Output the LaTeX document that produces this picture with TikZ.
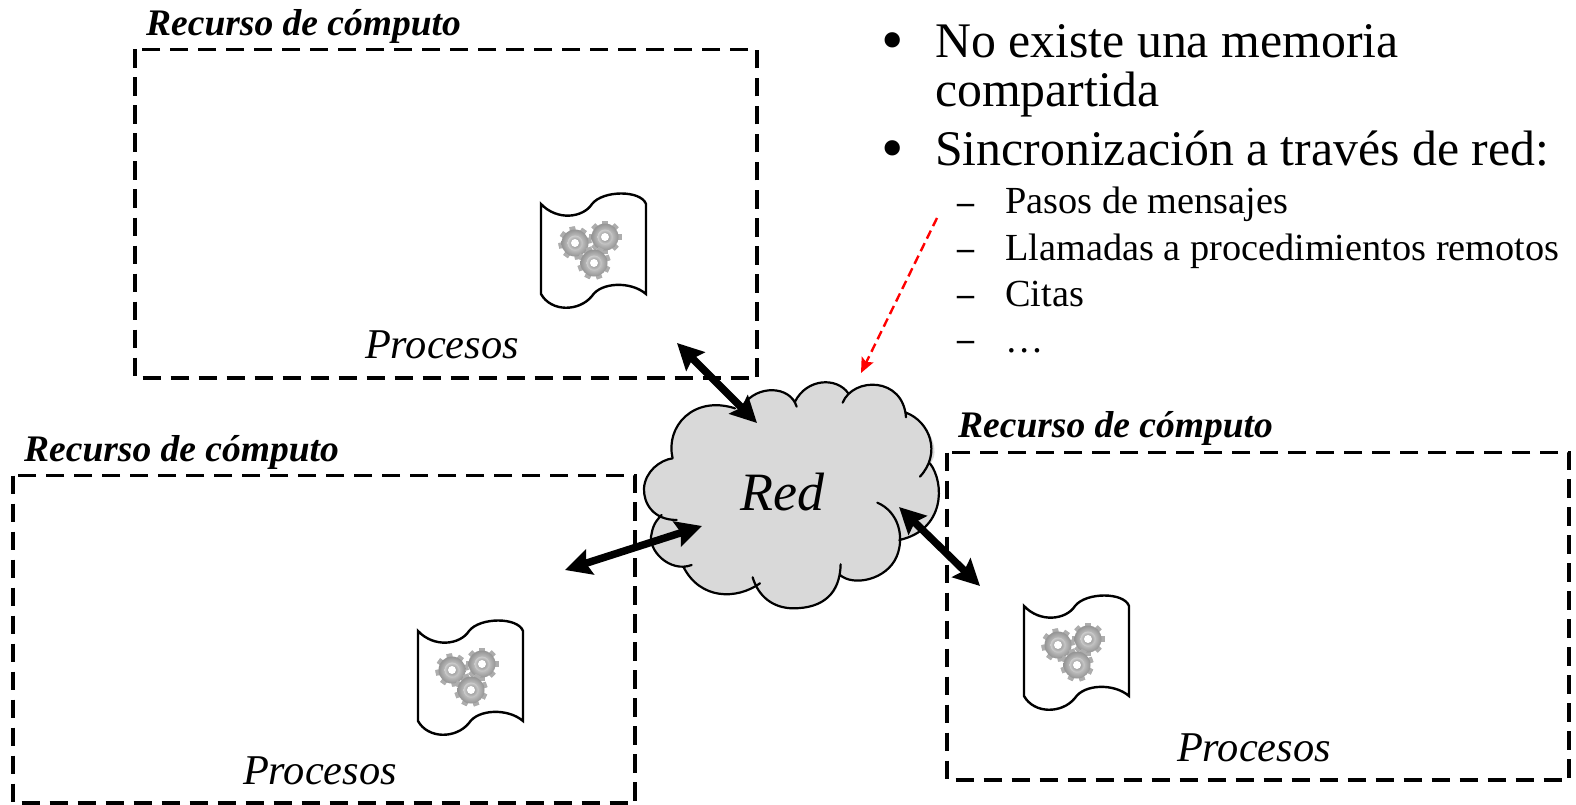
\documentclass[tikz,border=0pt]{standalone}
\usepackage{fontspec}
\setmainfont{Liberation Serif}
\usetikzlibrary{arrows.meta,positioning}
\definecolor{nubegris}{RGB}{217,217,217}
\tikzset{
recurso/.style={draw=black,line width=3.8pt,dash pattern=on 18.5pt off 9.5pt},
titulo/.style={anchor=base west,inner sep=0pt,font=\fontsize{37.5}{37.5}\selectfont\bfseries\itshape},
procesos/.style={anchor=base,inner sep=0pt,font=\fontsize{42.4}{42.4}\selectfont\itshape},
grande/.style={anchor=base west,inner sep=0pt,font=\fontsize{49.8}{49.8}\selectfont},
chico/.style={anchor=base west,inner sep=0pt,font=\fontsize{38.3}{38.3}\selectfont},
vineta/.style={anchor=base west,inner sep=0pt,font=\fontsize{64}{64}\selectfont},
guion/.style={anchor=base west,inner sep=0pt,font=\fontsize{34}{34}\selectfont\bfseries},
flecha/.style={line width=7.5pt,{Stealth[length=26pt,width=26pt,inset=4pt]}-{Stealth[length=26pt,width=26pt,inset=4pt]}},
lobulo/.style={draw=black,line width=2.2pt,line cap=round},
pics/engrane/.style={code={
\foreach \a in {0,45,...,315}
\fill[black!32,rotate=\a+#1] (-2.8,-16.5) rectangle (2.8,16.5);
\shade[inner color=black!8,outer color=black!42] (0,0) circle (13.5);
\shade[inner color=black!50,outer color=black!20] (0,0) circle (7.5);
\fill[white] (0,0) circle (4);
}},
pics/proceso/.style={code={
\draw[line width=2.4pt,fill=white] (0,0) .. controls (16,17) and (42,14) .. (51,0)
 .. controls (62,-14) and (100,-14) .. (105,0) -- (105,90)
 .. controls (90,77) and (60,78) .. (51,92) .. controls (38,108) and (10,108) .. (0,90) -- cycle;
\path (34,39) pic {engrane=10};
\path (64,33) pic {engrane=0};
\path (53,59) pic {engrane=20};
}}
}
\begin{document}
\begin{tikzpicture}[x=1pt,y=-1pt]
\useasboundingbox (0,0) rectangle (1576,805);

% recursos
\draw[recurso] (135,49.5) rectangle (757,378);
\draw[recurso] (13,475.5) rectangle (635,803);
\draw[recurso] (947,452.5) rectangle (1569,780);
\node[titulo] (tituloA) at (146,36) {Recurso de cómputo};
\node[titulo] (tituloB) at (24,461) {Recurso de cómputo};
\node[titulo] (tituloC) at (958,437) {Recurso de cómputo};

\path (541,204) pic {proceso};
\path (418,631) pic {proceso};
\path (1024,606) pic {proceso};
\node[procesos] (procesosA) at (442,358) {Procesos};
\node[procesos] (procesosB) at (320,784) {Procesos};
\node[procesos] (procesosC) at (1254,761) {Procesos};

% nube
\begin{scope}[shift={(620,330)},x=0.3333pt,y=-0.3333pt]
\fill[nubegris] (158,385) .. controls (135,290) and (220,195) .. (345,235)
 -- (370,225) .. controls (410,165) and (510,165) .. (530,230)
 -- (525,215) .. controls (560,145) and (650,140) .. (685,190)
 -- (668,218) .. controls (700,140) and (850,140) .. (858,262)
 -- (858,248) .. controls (930,275) and (965,370) .. (930,400)
 .. controls (975,460) and (975,600) .. (838,630)
 -- (830,680) .. controls (800,750) and (700,770) .. (660,735)
 .. controls (660,790) and (610,835) .. (520,835)
 .. controls (460,835) and (415,800) .. (398,742)
 -- (420,760) .. controls (350,810) and (240,810) .. (190,710)
 -- (215,705) .. controls (150,730) and (80,660) .. (95,610)
 .. controls (100,580) and (115,565) .. (125,555)
 -- (170,570) .. controls (100,570) and (70,520) .. (72,475)
 .. controls (75,425) and (120,390) .. (158,385) -- cycle;
\draw[lobulo] (158,385) .. controls (135,290) and (220,195) .. (345,235)
 (370,225) .. controls (410,165) and (510,165) .. (530,230)
 (525,215) .. controls (560,145) and (650,140) .. (685,190)
 (668,218) .. controls (700,140) and (850,140) .. (858,262)
 (858,248) .. controls (930,275) and (965,370) .. (900,440)
 (930,400) .. controls (975,460) and (975,600) .. (838,630)
 (772,518) .. controls (835,545) and (855,620) .. (830,680) .. controls (800,750) and (700,770) .. (660,735)
 (662,703) .. controls (660,790) and (610,835) .. (520,835) .. controls (460,835) and (415,800) .. (398,742)
 (420,760) .. controls (350,810) and (240,810) .. (190,710)
 (215,705) .. controls (150,730) and (80,660) .. (95,610) .. controls (100,580) and (115,565) .. (125,555)
 (170,570) .. controls (100,570) and (70,520) .. (72,475) .. controls (75,425) and (120,390) .. (158,385);
\end{scope}
\node[inner sep=0pt,anchor=base,font=\fontsize{54}{54}\selectfont\itshape] (red) at (782,510) {Red};

% flechas
\coordinate (a1) at (677,343);
\coordinate (a2) at (757,423);
\coordinate (b1) at (565,570);
\coordinate (b2) at (702,526);
\coordinate (c1) at (980,586);
\coordinate (c2) at (899,507);
\draw[flecha] (a1) -- (a2);
\draw[flecha] (b1) -- (b2);
\draw[flecha] (c1) -- (c2);

% texto
\node[vineta] (bulletA) at (881,62) {•};
\node[grande] (lineaA) at (935,58) {No existe una memoria};
\node[grande] (lineaB) at (935,107) {compartida};
\node[vineta] (bulletB) at (881,170) {•};
\node[grande] (lineaC) at (935,166) {Sincronización a través de red:};
\foreach \nombre/\yy/\yg/\txt in {pasos/214/213/Pasos de mensajes,llamadas/260/259/Llamadas a procedimientos remotos,citas/306/305/Citas,puntos/352/350/…}
{
\node[guion] (guion\nombre) at (957,\yg) {–};
\node[chico] (\nombre) at (1005,\yy) {\txt};
}

\coordinate (rojoA) at (937,218);
\coordinate (rojoB) at (861,373);
\draw[red,line width=2.4pt,dash pattern=on 9pt off 5pt,-{Stealth[length=15pt,width=13pt,inset=3pt]}] (rojoA) -- (rojoB);
\end{tikzpicture}
\end{document}
